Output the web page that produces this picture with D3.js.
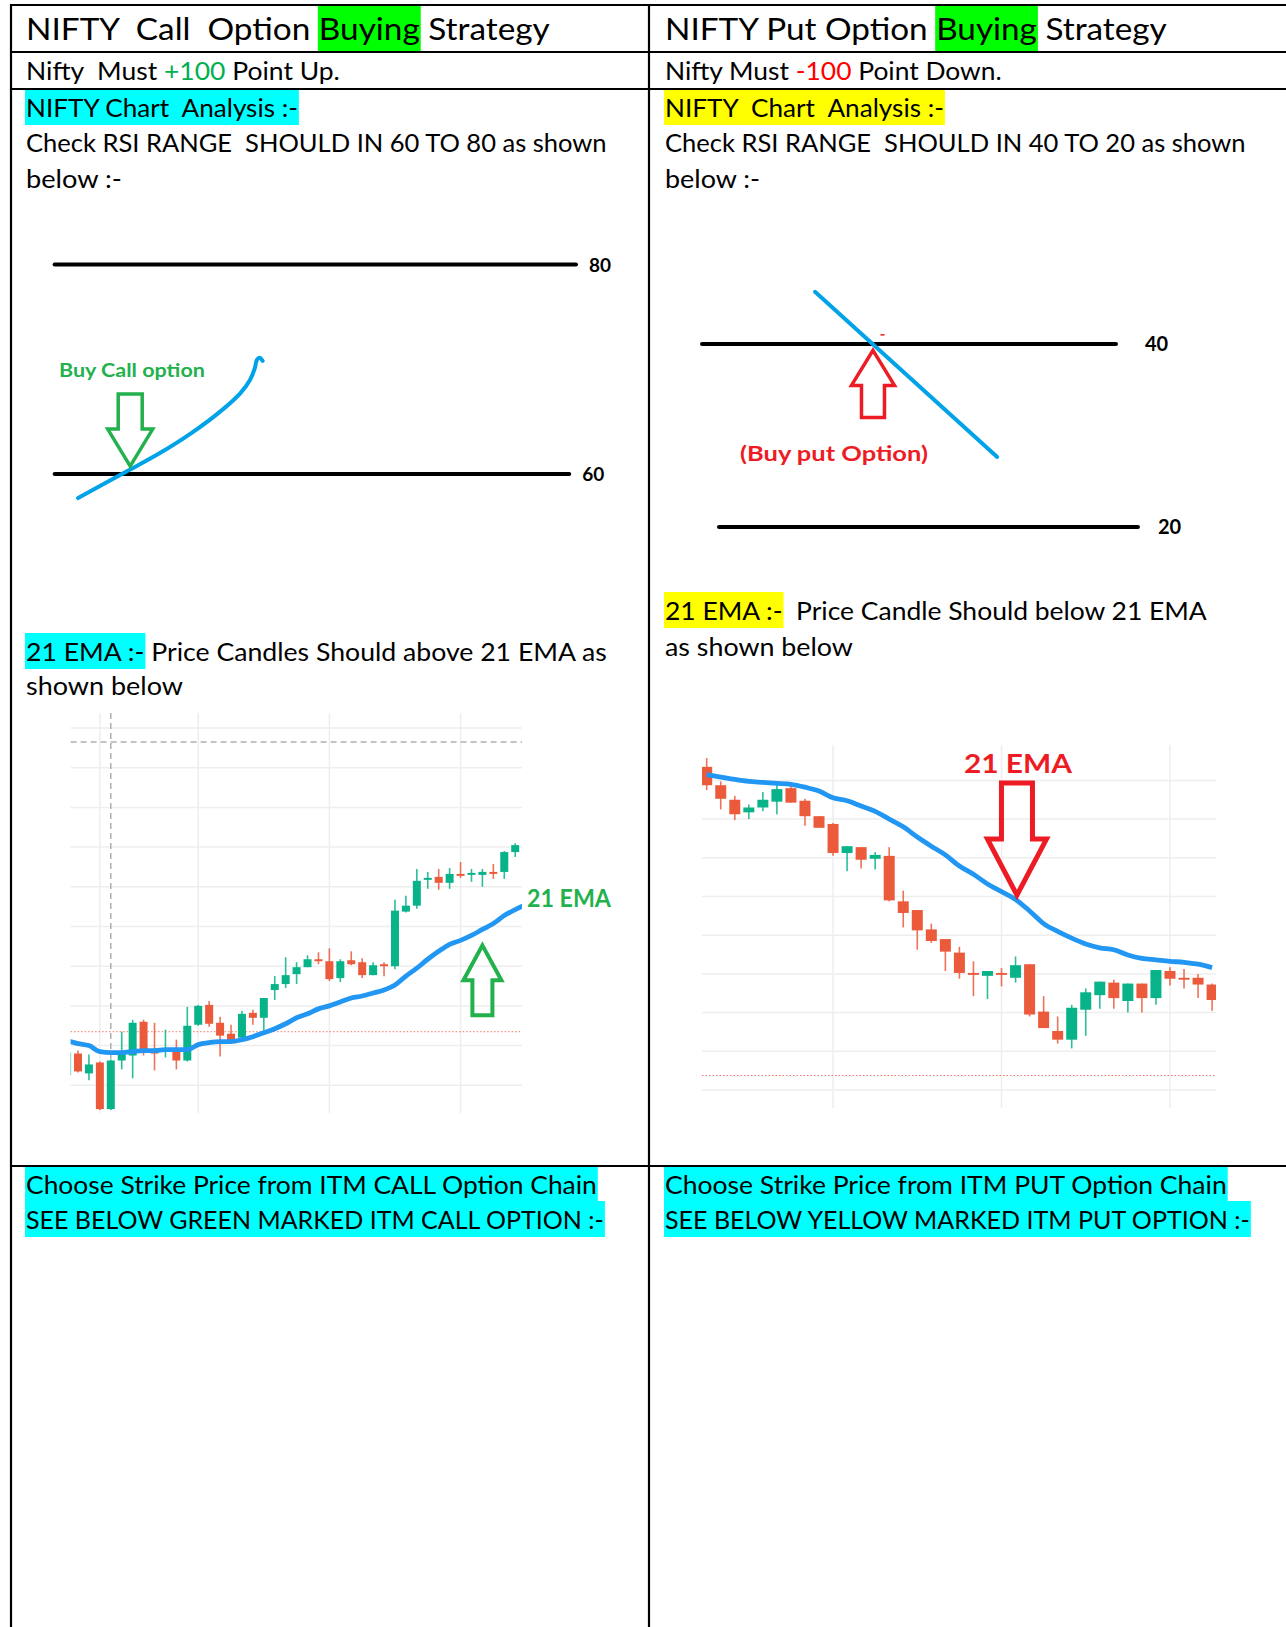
<!DOCTYPE html>
<html>
<head>
<meta charset="utf-8">
<script src="https://cdn.jsdelivr.net/npm/d3@7"></script>
<style>
  body { margin: 0; background: #fff; }
  svg { display: block; }
</style>
</head>
<body>
<div id="viz"></div>
<script>

// ---- data ----
// call side candles : [open, high, low, close]
const callCandles = [
  [17370, 17394, 17369, 17393], [17392, 17395, 17373, 17374], [17372, 17391, 17365, 17381],
  [17383, 17384, 17335, 17336], [17336, 17386, 17335, 17385], [17385, 17414, 17376, 17393],
  [17390, 17426, 17367, 17423], [17424, 17426, 17390, 17394], [17395, 17423, 17375, 17392],
  [17394, 17416, 17388, 17397], [17397, 17406, 17376, 17385], [17385, 17439, 17384, 17420],
  [17421, 17441, 17420, 17440], [17441, 17445, 17419, 17422], [17423, 17429, 17389, 17410],
  [17412, 17421, 17403, 17404], [17408, 17435, 17408, 17432], [17433, 17436, 17421, 17428],
  [17428, 17448, 17414, 17448], [17456, 17470, 17446, 17462], [17462, 17489, 17458, 17471],
  [17472, 17484, 17462, 17479], [17479, 17491, 17479, 17487], [17487, 17494, 17482, 17485],
  [17485, 17498, 17465, 17467], [17468, 17487, 17464, 17485], [17486, 17495, 17481, 17482],
  [17484, 17488, 17468, 17471], [17471, 17484, 17471, 17481], [17482, 17484, 17470, 17480],
  [17480, 17547, 17477, 17536], [17535, 17551, 17534, 17541], [17541, 17578, 17538, 17566],
  [17567, 17575, 17558, 17569], [17570, 17578, 17557, 17564], [17564, 17579, 17558, 17573],
  [17573, 17585, 17569, 17571], [17572, 17578, 17565, 17574], [17572, 17578, 17560, 17575],
  [17575, 17583, 17568, 17573], [17575, 17596, 17568, 17595], [17595, 17604, 17590, 17602]
]
const callEma = [
  17405, 17402, 17400, 17394, 17393, 17393, 17394, 17395, 17395, 17396, 17396, 17396,
  17401, 17403, 17404, 17404, 17406, 17409, 17413, 17417, 17422, 17428, 17432, 17437,
  17440, 17444, 17448, 17450, 17453, 17456, 17461, 17470, 17478, 17487, 17495, 17502,
  17506, 17511, 17517, 17523, 17531, 17537, 17542
]
const callGridPrices = [17360, 17400, 17440, 17480, 17520, 17560, 17600, 17640, 17680, 17720]
const callGridBars = [3, 12, 24, 36]
const callCrossBar = 4
const callCrossPrice = 17706
const callLastPrice = 17414
const callArrowTip = [38, 17501]

// put side candles : [open, high, low, close]
const putCandles = [
  [17334, 17343, 17310, 17315], [17315, 17319, 17290, 17301], [17300, 17304, 17279, 17285],
  [17287, 17295, 17280, 17292], [17292, 17308, 17288, 17300], [17298, 17316, 17285, 17311],
  [17312, 17317, 17297, 17297], [17299, 17301, 17273, 17283], [17283, 17283, 17271, 17271],
  [17275, 17276, 17242, 17245], [17245, 17252, 17226, 17252], [17251, 17251, 17229, 17238],
  [17239, 17246, 17228, 17243], [17242, 17251, 17195, 17196], [17195, 17206, 17168, 17183],
  [17186, 17186, 17145, 17165], [17166, 17172, 17152, 17154], [17156, 17156, 17123, 17143],
  [17142, 17148, 17115, 17121], [17121, 17133, 17097, 17119], [17118, 17123, 17094, 17123],
  [17121, 17126, 17107, 17119], [17116, 17138, 17111, 17129], [17130, 17130, 17076, 17078],
  [17081, 17097, 17064, 17064], [17061, 17076, 17048, 17052], [17052, 17088, 17043, 17085],
  [17083, 17105, 17056, 17101], [17098, 17112, 17084, 17112], [17111, 17114, 17084, 17095],
  [17092, 17110, 17080, 17110], [17110, 17110, 17080, 17095], [17095, 17124, 17088, 17124],
  [17123, 17127, 17108, 17115], [17116, 17125, 17105, 17114], [17116, 17120, 17095, 17109],
  [17109, 17110, 17082, 17093]
]
const putEma = [
  17326, 17323.5, 17321, 17319, 17318, 17317, 17316, 17313, 17309, 17302, 17299, 17293.5,
  17288, 17280, 17272, 17261.5, 17252, 17243, 17231.5, 17223, 17213, 17205, 17197, 17185,
  17172, 17164, 17157, 17151, 17147, 17145, 17139.5, 17136, 17134.5, 17133, 17132, 17130,
  17126.5
]
const putGridPrices = [17000, 17040, 17080, 17120, 17160, 17200, 17240, 17280, 17320]
const putGridBars = [9, 21, 33]
const putLastPrice = 17015
const putArrowTip = [22.1, 17201.5]

// RSI sketches
const callRsiLevels = [80, 60]
const callRsiLevelEnds = [100, 98.7]
const callRsiCurve = [
  [4.5, 57.7], [12.9, 60], [20.2, 62.0], [26.5, 64.0], [32.1, 66.1], [35.6, 67.7],
  [37.5, 69.0], [38.4, 70.1], [38.8, 70.9], [39.3, 71.1], [39.9, 70.8]
]
const callRsiArrowTip = [14.5, 60.76]

const putRsiLevels = [40, 20]
const putRsiLevelStarts = [0, 4.1]
const putRsiLevelEnds = [100, 105.3]
const putRsiCurve = [[27.3, 45.7], [71.3, 27.65]]
const putRsiArrowTip = [41.3, 39.3]

// text lines
const textLines = [
  { x: 26, y: 40, w: 524, size: 30, bgTop: 6, bgBot: 51,
    segs: [{ t: "NIFTY  Call  Option " }, { t: "Buying", bg: "#00ff00" }, { t: " Strategy" }] },
  { x: 26, y: 80, w: 314, size: 25,
    segs: [{ t: "Nifty  Must " }, { t: "+100", color: "#00b050" }, { t: " Point Up." }] },
  { x: 26, y: 117, w: 272, size: 25, segs: [{ t: "NIFTY Chart  Analysis :-", bg: "#00ffff" }] },
  { x: 26, y: 152, w: 581, size: 25, segs: [{ t: "Check RSI RANGE  SHOULD IN 60 TO 80 as shown" }] },
  { x: 26, y: 188, w: 96, size: 25, segs: [{ t: "below :-" }] },
  { x: 26, y: 661, w: 581, size: 25,
    segs: [{ t: "21 EMA :-", bg: "#00ffff" }, { t: " Price Candles Should above 21 EMA as" }] },
  { x: 26, y: 695, w: 157, size: 25, segs: [{ t: "shown below" }] },
  { x: 26, y: 1194, w: 571, size: 25,
    segs: [{ t: "Choose Strike Price from ITM CALL Option Chain", bg: "#00ffff" }] },
  { x: 26, y: 1229, w: 578, size: 25,
    segs: [{ t: "SEE BELOW GREEN MARKED ITM CALL OPTION :-", bg: "#00ffff" }] },

  { x: 665, y: 40, w: 502, size: 30, bgTop: 6, bgBot: 51,
    segs: [{ t: "NIFTY Put Option " }, { t: "Buying", bg: "#00ff00" }, { t: " Strategy" }] },
  { x: 665, y: 80, w: 337, size: 25,
    segs: [{ t: "Nifty Must " }, { t: "-100", color: "#ff0000" }, { t: " Point Down." }] },
  { x: 665, y: 117, w: 279, size: 25, segs: [{ t: "NIFTY  Chart  Analysis :-", bg: "#ffff00" }] },
  { x: 665, y: 152, w: 581, size: 25, segs: [{ t: "Check RSI RANGE  SHOULD IN 40 TO 20 as shown" }] },
  { x: 665, y: 188, w: 95, size: 25, segs: [{ t: "below :-" }] },
  { x: 665, y: 620, w: 542, size: 25,
    segs: [{ t: "21 EMA :-", bg: "#ffff00" }, { t: "  Price Candle Should below 21 EMA" }] },
  { x: 665, y: 656, w: 188, size: 25, segs: [{ t: "as shown below" }] },
  { x: 665, y: 1194, w: 562, size: 25,
    segs: [{ t: "Choose Strike Price from ITM PUT Option Chain", bg: "#00ffff" }] },
  { x: 665, y: 1229, w: 585, size: 25,
    segs: [{ t: "SEE BELOW YELLOW MARKED ITM PUT OPTION :-", bg: "#00ffff" }] },

  // labels on the sketches
  { x: 59, y: 377, w: 146, size: 19, bold: true, color: "#22b14c", segs: [{ t: "Buy Call option" }] },
  { x: 740, y: 461, w: 188, size: 21, bold: true, color: "#ed1c24", segs: [{ t: "(Buy put Option)" }] },
  { x: 527, y: 907, w: 84, size: 24, bold: true, color: "#22b14c", segs: [{ t: "21 EMA" }] },
  { x: 964, y: 773, w: 108, size: 27, bold: true, color: "#ed1c24", segs: [{ t: "21 EMA" }] }
]

const FONT = "Lato, 'Open Sans', sans-serif"
const UP = "#08b389"
const DOWN = "#ec5a3c"
const EMA_BLUE = "#2196f3"
const PAINT_BLUE = "#00a2e8"

const width = 1286
const height = 1627

const svg = d3.select("#viz").append("svg")
  .attr("width", width)
  .attr("height", height)
  .style("background-color", "#fff")

// block arrow (outline). dir = -1 points up, 1 points down
function arrowPath(tx, ty, dir, headLen, headW, shaftW, total) {
  const hb = ty - dir * headLen
  const end = ty - dir * total
  return [
    [tx, ty], [tx + headW / 2, hb], [tx + shaftW / 2, hb], [tx + shaftW / 2, end],
    [tx - shaftW / 2, end], [tx - shaftW / 2, hb], [tx - headW / 2, hb]
  ].map((p, i) => (i ? "L" : "M") + p[0] + "," + p[1]).join("") + "Z"
}

function drawLine(parent, L) {
  const g = parent.append("g")
  const t = g.append("text")
    .attr("font-family", FONT)
    .attr("font-size", L.size)
    .attr("font-weight", L.bold ? 700 : 400)
    .style("white-space", "pre")
  const spans = L.segs.map(s => t.append("tspan")
    .attr("fill", s.color || L.color || "#000")
    .text(s.t))
  const natural = t.node().getComputedTextLength()
  const k = L.w ? L.w / natural : 1
  g.attr("transform", `translate(${L.x},${L.y}) scale(${k},1)`)
  const top = (L.bgTop !== undefined ? L.bgTop : L.y - 28) - L.y
  const bot = (L.bgBot !== undefined ? L.bgBot : L.y + 8) - L.y
  let off = 0
  spans.forEach((sp, i) => {
    const w = sp.node().getComputedTextLength()
    if (L.segs[i].bg) {
      g.insert("rect", "text")
        .attr("x", off - 1 / k)
        .attr("width", w + 2 / k)
        .attr("y", top)
        .attr("height", bot - top)
        .attr("fill", L.segs[i].bg)
    }
    off += w
  })
}

function drawCandleChart(opt) {
  const g = svg.append("g")
  const clipId = opt.id + "-clip"
  svg.append("defs").append("clipPath").attr("id", clipId)
    .append("rect")
    .attr("x", opt.plot.x0).attr("y", opt.plot.y0 - 10)
    .attr("width", opt.plot.x1 - opt.plot.x0).attr("height", opt.plot.y1 - opt.plot.y0 + 10)

  const x = opt.x
  const y = opt.y

  // grid
  g.selectAll(".hgrid").data(opt.gridPrices).enter().append("line")
    .attr("x1", opt.plot.x0).attr("x2", opt.plot.x1)
    .attr("y1", d => y(d)).attr("y2", d => y(d))
    .attr("stroke", "#eeeeee").attr("stroke-width", 1.5)
  g.selectAll(".vgrid").data(opt.gridBars).enter().append("line")
    .attr("x1", d => x(d)).attr("x2", d => x(d))
    .attr("y1", opt.plot.y0).attr("y2", opt.plot.y1)
    .attr("stroke", "#eeeeee").attr("stroke-width", 1.5)

  // last price line
  g.append("line")
    .attr("x1", opt.plot.x0).attr("x2", opt.plot.x1)
    .attr("y1", y(opt.lastPrice)).attr("y2", y(opt.lastPrice))
    .attr("stroke", "#ec5a3c").attr("stroke-width", 1)
    .attr("stroke-dasharray", "1.5,2")
    .attr("opacity", 0.8)

  // crosshair
  if (opt.crossBar !== undefined) {
    g.append("line")
      .attr("x1", x(opt.crossBar)).attr("x2", x(opt.crossBar))
      .attr("y1", opt.plot.y0).attr("y2", opt.plot.y1)
      .attr("stroke", "#b0b0b0").attr("stroke-width", 1.5).attr("stroke-dasharray", "6,4")
    g.append("line")
      .attr("x1", opt.plot.x0).attr("x2", opt.plot.x1)
      .attr("y1", y(opt.crossPrice)).attr("y2", y(opt.crossPrice))
      .attr("stroke", "#b0b0b0").attr("stroke-width", 1.5).attr("stroke-dasharray", "6,4")
  }

  const cg = g.append("g").attr("clip-path", `url(#${clipId})`)
  const color = d => d[3] >= d[0] ? UP : DOWN

  cg.selectAll(".wick").data(opt.candles).enter().append("line")
    .attr("x1", (d, i) => x(i)).attr("x2", (d, i) => x(i))
    .attr("y1", d => y(d[1])).attr("y2", d => y(d[2]))
    .attr("stroke", color).attr("stroke-width", 1.6).attr("opacity", 0.85)

  cg.selectAll(".body").data(opt.candles).enter().append("rect")
    .attr("x", (d, i) => x(i) - opt.bodyW / 2)
    .attr("width", opt.bodyW)
    .attr("y", d => y(Math.max(d[0], d[3])))
    .attr("height", d => Math.max(1.8, Math.abs(y(d[0]) - y(d[3]))))
    .attr("fill", color)

  const ema = d3.line()
    .x((d, i) => x(i))
    .y(d => y(d))
    .curve(d3.curveMonotoneX)

  cg.append("path")
    .attr("d", ema(opt.ema))
    .attr("fill", "none")
    .attr("stroke", EMA_BLUE)
    .attr("stroke-width", 4.8)
    .attr("stroke-linejoin", "round")

  g.append("path")
    .attr("d", arrowPath(x(opt.arrowTip[0]), y(opt.arrowTip[1]), opt.arrow.dir,
      opt.arrow.headLen, opt.arrow.headW, opt.arrow.shaftW, opt.arrow.total))
    .attr("fill", "none")
    .attr("stroke", opt.arrow.color)
    .attr("stroke-width", opt.arrow.stroke)
    .attr("stroke-linejoin", "miter")
}

function draw() {

  // ===== text =====
  const tg = svg.append("g")
  textLines.forEach(L => drawLine(tg, L))

  // ===== RSI sketch, call side =====
  const cx = d3.scaleLinear().domain([0, 100]).range([54.6, 576])
  const cy = d3.scaleLinear().domain([60, 80]).range([474, 264.5])

  svg.selectAll(".callLevel").data(callRsiLevels).enter().append("line")
    .attr("x1", cx(0)).attr("x2", (d, i) => cx(callRsiLevelEnds[i]))
    .attr("y1", d => cy(d)).attr("y2", d => cy(d))
    .attr("stroke", "#000").attr("stroke-width", 4).attr("stroke-linecap", "round")
  svg.selectAll(".callLevelLabel").data(callRsiLevels).enter().append("text")
    .attr("x", (d, i) => cx(callRsiLevelEnds[i]) + 13)
    .attr("y", d => cy(d) + 7)
    .attr("font-family", FONT).attr("font-weight", 700).attr("font-size", 19)
    .text(d => d)

  svg.append("path")
    .attr("d", d3.line().x(d => cx(d[0])).y(d => cy(d[1])).curve(d3.curveCatmullRom)(callRsiCurve))
    .attr("fill", "none").attr("stroke", PAINT_BLUE).attr("stroke-width", 4)
    .attr("stroke-linecap", "round")

  svg.append("path")
    .attr("d", arrowPath(cx(callRsiArrowTip[0]), cy(callRsiArrowTip[1]), 1, 37, 45, 24, 72))
    .attr("fill", "none").attr("stroke", "#22b14c").attr("stroke-width", 3.5)

  // ===== RSI sketch, put side =====
  const px = d3.scaleLinear().domain([0, 100]).range([702, 1116])
  const py = d3.scaleLinear().domain([20, 40]).range([527, 344])

  svg.selectAll(".putLevel").data(putRsiLevels).enter().append("line")
    .attr("x1", (d, i) => px(putRsiLevelStarts[i])).attr("x2", (d, i) => px(putRsiLevelEnds[i]))
    .attr("y1", d => py(d)).attr("y2", d => py(d))
    .attr("stroke", "#000").attr("stroke-width", 4).attr("stroke-linecap", "round")
  svg.selectAll(".putLevelLabel").data(putRsiLevels).enter().append("text")
    .attr("x", (d, i) => px(putRsiLevelEnds[i]) + (i ? 20 : 29))
    .attr("y", d => py(d) + 7)
    .attr("font-family", FONT).attr("font-weight", 700).attr("font-size", 20)
    .text(d => d)

  svg.append("path")
    .attr("d", d3.line().x(d => px(d[0])).y(d => py(d[1]))(putRsiCurve))
    .attr("fill", "none").attr("stroke", PAINT_BLUE).attr("stroke-width", 4)
    .attr("stroke-linecap", "round")

  svg.append("line")
    .attr("x1", px(43.1)).attr("x2", px(44.1))
    .attr("y1", py(41)).attr("y2", py(41))
    .attr("stroke", "#ed1c24").attr("stroke-width", 1.5)

  svg.append("path")
    .attr("d", arrowPath(px(putRsiArrowTip[0]), py(putRsiArrowTip[1]), -1, 35, 43, 23, 67))
    .attr("fill", "none").attr("stroke", "#ed1c24").attr("stroke-width", 3.5)

  // ===== candle charts =====
  drawCandleChart({
    id: "call",
    candles: callCandles,
    ema: callEma,
    x: d3.scaleLinear().domain([0, 41]).range([67.07, 515.2]),
    y: d3.scaleLinear().domain([17360, 17720]).range([1085.3, 728]),
    plot: { x0: 70.6, x1: 522, y0: 713, y1: 1113 },
    bodyW: 8,
    gridPrices: callGridPrices,
    gridBars: callGridBars,
    lastPrice: callLastPrice,
    crossBar: callCrossBar,
    crossPrice: callCrossPrice,
    arrowTip: callArrowTip,
    arrow: { dir: -1, headLen: 35, headW: 38, shaftW: 20, total: 70, color: "#22b14c", stroke: 4 }
  })

  drawCandleChart({
    id: "put",
    candles: putCandles,
    ema: putEma,
    x: d3.scaleLinear().domain([0, 36]).range([706.7, 1212.1]),
    y: d3.scaleLinear().domain([17000, 17320]).range([1090, 780.4]),
    plot: { x0: 702, x1: 1216, y0: 745, y1: 1108 },
    bodyW: 11,
    gridPrices: putGridPrices,
    gridBars: putGridBars,
    lastPrice: putLastPrice,
    arrowTip: putArrowTip,
    arrow: { dir: 1, headLen: 56, headW: 59, shaftW: 31, total: 112, color: "#ed1c24", stroke: 5 }
  })

  // ===== table rules =====
  const rows = [5, 52, 89, 1166]
  const cols = [11, 649]
  svg.selectAll(".row").data(rows).enter().append("line")
    .attr("x1", 10).attr("x2", width)
    .attr("y1", d => d).attr("y2", d => d)
    .attr("stroke", "#000").attr("stroke-width", 2.2)
  svg.selectAll(".col").data(cols).enter().append("line")
    .attr("x1", d => d).attr("x2", d => d)
    .attr("y1", 4).attr("y2", height)
    .attr("stroke", "#000").attr("stroke-width", 2.2)
}

if (document.fonts && document.fonts.ready) {
  document.fonts.ready.then(draw)
} else {
  draw()
}

</script>
</body>
</html>
